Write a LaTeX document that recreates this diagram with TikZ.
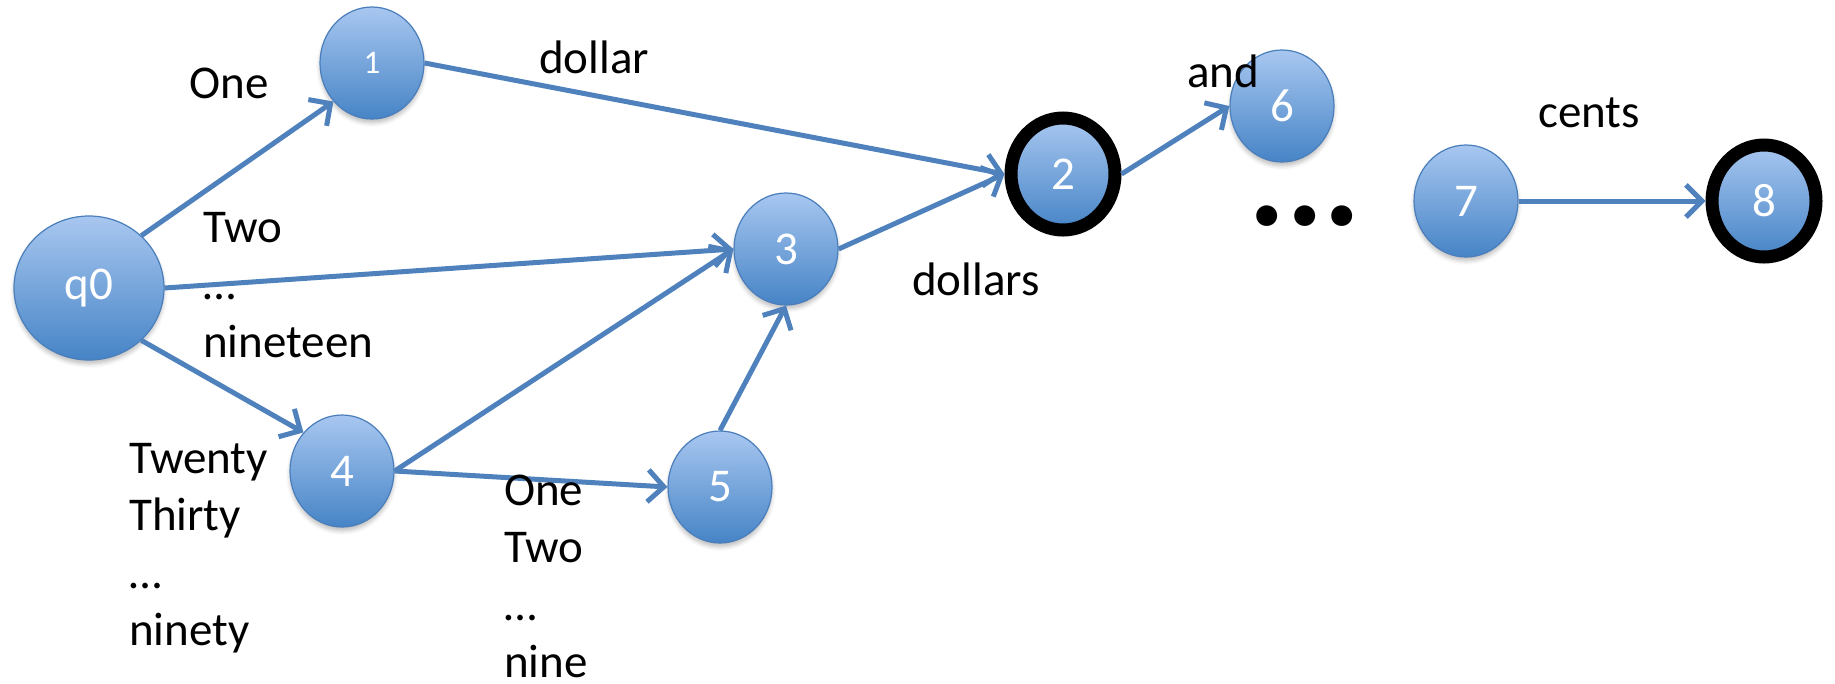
\documentclass[tikz,border=0pt]{standalone}
\usepackage{fontspec}
\setmainfont{Carlito}
\usetikzlibrary{arrows.meta,shapes.geometric,shadows.blur}
\definecolor{edgecol}{RGB}{79,129,189}
\definecolor{ntop}{RGB}{168,199,240}
\definecolor{nbot}{RGB}{70,132,198}
\definecolor{nborder}{RGB}{74,126,187}
\tikzset{
  state/.style={ellipse, minimum width=104pt, minimum height=112pt, inner sep=0pt,
    top color=ntop, bottom color=nbot, draw=nborder, line width=1.2pt, text=white,
    font=\fontsize{47}{55}\selectfont,
    blur shadow={shadow xshift=0pt, shadow yshift=-4pt, shadow blur radius=4pt, shadow opacity=25}},
  final/.style={state, draw=black, line width=13pt},
  trans/.style={draw=edgecol, line width=5pt, -{Straight Barb[length=16pt,width=32pt]}},
  lbl/.style={font=\fontsize{47}{57.5}\selectfont, inner sep=0pt, text=black},
}
\begin{document}
\begin{tikzpicture}[x=1pt,y=-1pt]
\useasboundingbox (0,0) rectangle (1835,683);
% states
\node[state, minimum width=150pt, minimum height=144pt] (q0) at (89,288) {q0};
\node[state, font=\fontsize{33}{40}\selectfont] (n1) at (372,63) {1};
\node[final] (n2) at (1063,174) {2};
\node[state] (n3) at (786,249) {3};
\node[state] (n4) at (342,471) {4};
\node[state] (n5) at (720,487) {5};
\node[state] (n6) at (1282,106) {6};
\node[state] (n7) at (1466,201) {7};
\node[final] (n8) at (1764,201) {8};
% transitions
\draw[trans] (q0.45) -- (n1.225);
\draw[trans] (n1.east) -- (n2.west);
\draw[trans] (q0.east) -- (n3.west);
\draw[trans] (n3.east) -- (n2.west);
\draw[trans] (n2.east) -- (n6.west);
\draw[trans] (q0.-45) -- (n4.135);
\draw[trans] (n4.east) -- (n3.west);
\draw[trans] (n4.east) -- (n5.west);
\draw[trans] (n5.north) -- (n3.south);
\draw[trans] (n7.east) -- (n8.west);
% labels
\node[lbl, anchor=base] (lone) at (229,98) {One};
\node[lbl, anchor=base] (ldollar) at (594,73) {dollar};
\node[lbl, anchor=base] (land) at (1223,87) {and};
\node[lbl, anchor=base] (lcents) at (1589,127) {cents};
\node[lbl, anchor=base] (ldollars) at (976,295) {dollars};
\node[lbl, anchor=base west] (lteen) at (203,242) {\begin{tabular}[t]{@{}l@{}}Two\\…\\nineteen\end{tabular}};
\node[lbl, anchor=base west] (ltens) at (129,473) {\begin{tabular}[t]{@{}l@{}}Twenty\\Thirty\\…\\ninety\end{tabular}};
\node[lbl, anchor=base west] (lunits) at (504,505) {\begin{tabular}[t]{@{}l@{}}One\\Two\\…\\nine\end{tabular}};
\node[anchor=base, inner sep=0pt, font=\fontsize{140}{140}\selectfont\bfseries] (dots) at (1305,225) {...};
\end{tikzpicture}
\end{document}
